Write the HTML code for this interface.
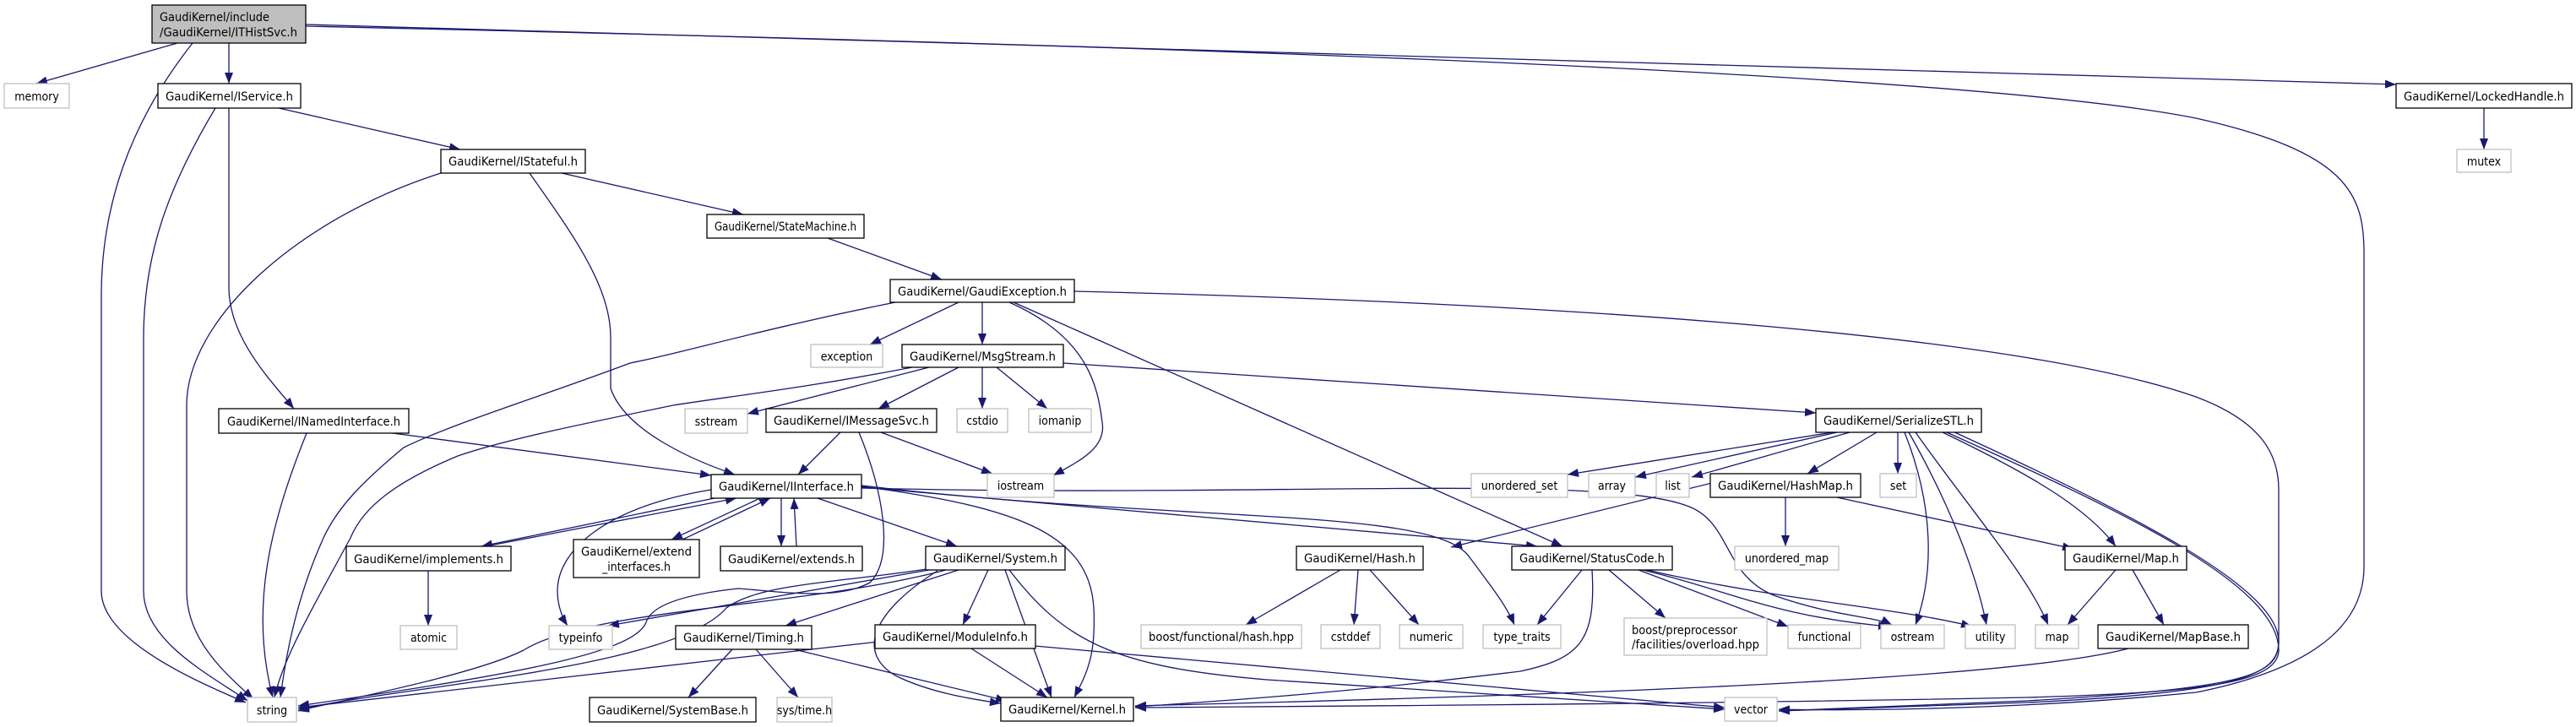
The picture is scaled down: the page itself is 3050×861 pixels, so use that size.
<!DOCTYPE html>
<html><head><meta charset="utf-8"><style>
html,body{margin:0;padding:0;background:#fff;}
svg{display:block;}
text{font-family:"DejaVu Sans Condensed","Liberation Sans Narrow","Liberation Sans",sans-serif;font-size:14px;fill:#000;}
.n{fill:#fff;stroke:#000;stroke-width:1.3;}
.g{fill:#fff;stroke:#bfbfbf;stroke-width:1.3;}
.e{fill:none;stroke:#191970;stroke-width:1.3;marker-end:url(#a);}
</style></head><body>
<svg width="3050" height="861" viewBox="0 0 3050 861" xmlns="http://www.w3.org/2000/svg">
<defs><marker id="a" markerUnits="userSpaceOnUse" markerWidth="14" markerHeight="10" refX="13" refY="5" orient="auto"><path d="M0,0 L13,5 L0,10 z" fill="#191970"/></marker></defs>
<g>
<path class="e" d="M210,51 L43,99"/>
<path class="e" d="M228,51 C150,150 120,250 120,350 L120,700 C120,760 240,810 291,832"/>
<path class="e" d="M271,51 L271,99"/>
<path class="e" d="M362,29 L2837,100"/>
<path class="e" d="M362,31 C1200,50 2300,80 2600,140 C2780,180 2799,230 2799,300 L2799,671 C2799,760 2700,800 2600,820 C2400,840 2200,842 2106,840"/>
<path class="e" d="M330,128 L545,177"/>
<path class="e" d="M255,128 C200,220 170,300 170,400 L170,700 C170,760 250,800 293,830"/>
<path class="e" d="M271,128 L271,340 C271,400 320,450 348,484"/>
<path class="e" d="M665,205 L880,254"/>
<path class="e" d="M522,205 C350,260 221,380 221,480 L221,700 C221,760 270,800 300,828"/>
<path class="e" d="M627,205 C680,280 723,340 723,400 L723,460 C740,510 820,545 870,562"/>
<path class="e" d="M980,282 L1115,331"/>
<path class="e" d="M1135,358 L1030,408"/>
<path class="e" d="M1163,358 L1163,408"/>
<path class="e" d="M1060,358 C900,390 800,420 746,430 C640,470 540,500 478,530 C430,570 400,600 383,637 C350,710 338,780 332,826"/>
<path class="e" d="M1195,358 C1290,400 1300,460 1305,500 C1310,530 1280,545 1247,563"/>
<path class="e" d="M1200,358 L1850,647"/>
<path class="e" d="M1272,345 C1900,360 2400,400 2600,470 C2680,500 2698,540 2698,580 L2698,760 C2698,800 2650,820 2400,832 C2250,838 2150,840 2106,842"/>
<path class="e" d="M1100,435 L885,490"/>
<path class="e" d="M1080,435 C950,460 860,470 797,480 C700,500 600,520 542,540 C470,570 430,600 415,637 C370,720 335,780 325,826"/>
<path class="e" d="M1135,435 L1040,484"/>
<path class="e" d="M1163,435 L1163,484"/>
<path class="e" d="M1180,435 L1240,484"/>
<path class="e" d="M1259,430 L2150,489"/>
<path class="e" d="M995,512 L945,562"/>
<path class="e" d="M1043,512 L1175,561"/>
<path class="e" d="M1017,512 C1045,580 1060,660 1030,690 C990,712 920,700 874,697 C800,705 770,720 765,737 C750,775 600,800 353,836"/>
<path class="e" d="M465,513 L842,563"/>
<path class="e" d="M363,513 C320,620 295,720 323,826"/>
<path class="e" d="M870,585 L570,647"/>
<path class="e" d="M575,647 L872,590"/>
<path class="e" d="M900,590 L795,639"/>
<path class="e" d="M808,639 L912,590"/>
<path class="e" d="M925,590 L925,647"/>
<path class="e" d="M943,647 L940,590"/>
<path class="e" d="M842,580 C720,600 660,650 660,700 C660,720 668,735 672,741"/>
<path class="e" d="M968,590 L1133,647"/>
<path class="e" d="M1020,576 C1200,600 1290,630 1295,720 C1298,780 1285,800 1272,826"/>
<path class="e" d="M1020,577 L1820,647"/>
<path class="e" d="M1020,575 C1400,620 1700,600 1740,660 C1770,700 1785,720 1793,740"/>
<path class="e" d="M1020,578 C1500,590 1900,560 2000,600 C2050,620 2040,680 2100,705 C2170,730 2220,730 2240,740"/>
<path class="e" d="M507,676 L507,741"/>
<path class="e" d="M1100,675 L720,741"/>
<path class="e" d="M1110,672 C1000,690 900,690 860,720 C800,790 500,810 353,840"/>
<path class="e" d="M1120,675 C950,720 700,720 620,770 C560,800 400,830 353,842"/>
<path class="e" d="M1135,675 L930,741"/>
<path class="e" d="M1170,675 L1140,740"/>
<path class="e" d="M1190,675 L1245,826"/>
<path class="e" d="M1195,675 C1260,760 1320,790 1500,805 C1800,825 1950,835 2042,840"/>
<path class="e" d="M1110,676 C1040,720 1010,770 1060,800 C1100,820 1150,828 1185,833"/>
<path class="e" d="M867,769 L815,826"/>
<path class="e" d="M895,769 L945,826"/>
<path class="e" d="M940,769 L1192,830"/>
<path class="e" d="M1040,760 L353,838"/>
<path class="e" d="M1150,768 L1240,826"/>
<path class="e" d="M1225,765 L2042,838"/>
<path class="e" d="M2170,512 L1856,562"/>
<path class="e" d="M2175,512 L1936,565"/>
<path class="e" d="M2190,512 L2003,565"/>
<path class="e" d="M2222,512 L2140,561"/>
<path class="e" d="M2247,512 L2247,561"/>
<path class="e" d="M2255,512 C2290,600 2290,680 2268,740"/>
<path class="e" d="M2260,512 C2310,600 2340,680 2352,740"/>
<path class="e" d="M2268,512 C2330,600 2400,680 2425,740"/>
<path class="e" d="M2300,512 C2400,560 2470,600 2505,647"/>
<path class="e" d="M2305,512 C2500,600 2698,690 2698,770 C2698,810 2600,820 2400,826 C2000,834 1600,836 1344,838"/>
<path class="e" d="M2310,510 C2550,620 2698,700 2698,760 C2698,800 2660,815 2400,830 C2250,836 2150,840 2106,842"/>
<path class="e" d="M2035,570 L1718,648"/>
<path class="e" d="M2114,589 L2114,647"/>
<path class="e" d="M2175,589 L2455,650"/>
<path class="e" d="M2505,675 L2448,740"/>
<path class="e" d="M2525,675 L2562,740"/>
<path class="e" d="M2520,768 C2400,800 2000,820 1344,836"/>
<path class="e" d="M1587,675 L1475,740"/>
<path class="e" d="M1608,675 L1603,740"/>
<path class="e" d="M1622,675 L1680,740"/>
<path class="e" d="M1873,675 L1820,740"/>
<path class="e" d="M1885,675 C1890,760 1870,780 1800,795 C1600,820 1450,830 1344,837"/>
<path class="e" d="M1905,675 L1972,732"/>
<path class="e" d="M1940,675 L2117,742"/>
<path class="e" d="M1945,675 C2050,700 2100,730 2237,742"/>
<path class="e" d="M1950,675 C2100,710 2250,720 2335,742"/>
<path class="e" d="M2941,128 L2941,177"/>
</g>
<rect x="180" y="6" width="182" height="45" fill="#bfbfbf" stroke="#000" stroke-width="1.3"/>
<text x="189" y="25" textLength="130" lengthAdjust="spacingAndGlyphs">GaudiKernel/include</text>
<text x="189" y="43" textLength="163" lengthAdjust="spacingAndGlyphs">/GaudiKernel/ITHistSvc.h</text>
<g>
<rect class="g" x="5" y="99" width="77" height="29"/><text x="43.5" y="119" text-anchor="middle">memory</text>
<rect class="n" x="187" y="99" width="169" height="29"/><text x="271.5" y="119" text-anchor="middle" textLength="151" lengthAdjust="spacingAndGlyphs">GaudiKernel/IService.h</text>
<rect class="n" x="522" y="177" width="171" height="28"/><text x="607.5" y="196" text-anchor="middle" textLength="153" lengthAdjust="spacingAndGlyphs">GaudiKernel/IStateful.h</text>
<rect class="n" x="837" y="254" width="186" height="28"/><text x="930" y="273" text-anchor="middle" textLength="168" lengthAdjust="spacingAndGlyphs">GaudiKernel/StateMachine.h</text>
<rect class="n" x="2837" y="99" width="208" height="29"/><text x="2941" y="119" text-anchor="middle" textLength="190" lengthAdjust="spacingAndGlyphs">GaudiKernel/LockedHandle.h</text>
<rect class="g" x="2909" y="177" width="64" height="27"/><text x="2941" y="196" text-anchor="middle">mutex</text>
<rect class="n" x="1054" y="331" width="218" height="27"/><text x="1163" y="350" text-anchor="middle" textLength="200" lengthAdjust="spacingAndGlyphs">GaudiKernel/GaudiException.h</text>
<rect class="g" x="960" y="408" width="85" height="27"/><text x="1002.5" y="427" text-anchor="middle">exception</text>
<rect class="n" x="1068" y="408" width="191" height="27"/><text x="1163.5" y="427" text-anchor="middle" textLength="173" lengthAdjust="spacingAndGlyphs">GaudiKernel/MsgStream.h</text>
<rect class="n" x="259" y="484" width="225" height="29"/><text x="371.5" y="504" text-anchor="middle" textLength="205" lengthAdjust="spacingAndGlyphs">GaudiKernel/INamedInterface.h</text>
<rect class="g" x="811" y="484" width="74" height="29"/><text x="848" y="504" text-anchor="middle">sstream</text>
<rect class="n" x="907" y="484" width="202" height="28"/><text x="1008" y="503" text-anchor="middle" textLength="184" lengthAdjust="spacingAndGlyphs">GaudiKernel/IMessageSvc.h</text>
<rect class="g" x="1133" y="484" width="60" height="28"/><text x="1163" y="503" text-anchor="middle">cstdio</text>
<rect class="g" x="1218" y="484" width="74" height="28"/><text x="1255" y="503" text-anchor="middle">iomanip</text>
<rect class="n" x="2150" y="484" width="196" height="28"/><text x="2248" y="503" text-anchor="middle" textLength="178" lengthAdjust="spacingAndGlyphs">GaudiKernel/SerializeSTL.h</text>
<rect class="n" x="842" y="562" width="178" height="28"/><text x="931" y="581" text-anchor="middle" textLength="160" lengthAdjust="spacingAndGlyphs">GaudiKernel/IInterface.h</text>
<rect class="g" x="1169" y="561" width="79" height="28"/><text x="1208.5" y="580" text-anchor="middle">iostream</text>
<rect class="g" x="1742" y="561" width="114" height="28"/><text x="1799" y="580" text-anchor="middle">unordered_set</text>
<rect class="g" x="1881" y="561" width="55" height="28"/><text x="1908.5" y="580" text-anchor="middle">array</text>
<rect class="g" x="1961" y="561" width="39" height="28"/><text x="1980.5" y="580" text-anchor="middle">list</text>
<rect class="n" x="2025" y="561" width="178" height="28"/><text x="2114" y="580" text-anchor="middle" textLength="160" lengthAdjust="spacingAndGlyphs">GaudiKernel/HashMap.h</text>
<rect class="g" x="2226" y="561" width="43" height="28"/><text x="2247.5" y="580" text-anchor="middle">set</text>
<rect class="n" x="410" y="647" width="195" height="29"/><text x="507.5" y="667" text-anchor="middle" textLength="177" lengthAdjust="spacingAndGlyphs">GaudiKernel/implements.h</text>
<rect class="n" x="679" y="639" width="149" height="45"/><text x="753.5" y="658" text-anchor="middle" textLength="131" lengthAdjust="spacingAndGlyphs">GaudiKernel/extend</text><text x="753.5" y="676" text-anchor="middle">_interfaces.h</text>
<rect class="n" x="853" y="647" width="168" height="29"/><text x="937" y="667" text-anchor="middle" textLength="150" lengthAdjust="spacingAndGlyphs">GaudiKernel/extends.h</text>
<rect class="n" x="1096" y="647" width="165" height="28"/><text x="1178.5" y="666" text-anchor="middle" textLength="147" lengthAdjust="spacingAndGlyphs">GaudiKernel/System.h</text>
<rect class="n" x="1535" y="647" width="150" height="28"/><text x="1610" y="666" text-anchor="middle" textLength="132" lengthAdjust="spacingAndGlyphs">GaudiKernel/Hash.h</text>
<rect class="n" x="1790" y="647" width="190" height="28"/><text x="1885" y="666" text-anchor="middle" textLength="172" lengthAdjust="spacingAndGlyphs">GaudiKernel/StatusCode.h</text>
<rect class="g" x="2054" y="647" width="123" height="28"/><text x="2115.5" y="666" text-anchor="middle">unordered_map</text>
<rect class="n" x="2445" y="647" width="144" height="28"/><text x="2517" y="666" text-anchor="middle" textLength="126" lengthAdjust="spacingAndGlyphs">GaudiKernel/Map.h</text>
<rect class="g" x="474" y="741" width="67" height="28"/><text x="507.5" y="760" text-anchor="middle">atomic</text>
<rect class="g" x="650" y="741" width="75" height="28"/><text x="687.5" y="760" text-anchor="middle">typeinfo</text>
<rect class="n" x="800" y="741" width="161" height="28"/><text x="880.5" y="760" text-anchor="middle" textLength="143" lengthAdjust="spacingAndGlyphs">GaudiKernel/Timing.h</text>
<rect class="n" x="1036" y="740" width="190" height="28"/><text x="1131" y="759" text-anchor="middle" textLength="172" lengthAdjust="spacingAndGlyphs">GaudiKernel/ModuleInfo.h</text>
<rect class="g" x="1351" y="740" width="190" height="28"/><text x="1446" y="759" text-anchor="middle" textLength="172" lengthAdjust="spacingAndGlyphs">boost/functional/hash.hpp</text>
<rect class="g" x="1564" y="740" width="70" height="28"/><text x="1599" y="759" text-anchor="middle">cstddef</text>
<rect class="g" x="1657" y="740" width="75" height="28"/><text x="1694.5" y="759" text-anchor="middle">numeric</text>
<rect class="g" x="1756" y="740" width="92" height="28"/><text x="1802" y="759" text-anchor="middle">type_traits</text>
<rect class="g" x="1923" y="732" width="169" height="44"/><text x="1932" y="751" textLength="125" lengthAdjust="spacingAndGlyphs">boost/preprocessor</text><text x="1932" y="768" textLength="151" lengthAdjust="spacingAndGlyphs">/facilities/overload.hpp</text>
<rect class="g" x="2117" y="740" width="86" height="28"/><text x="2160" y="759" text-anchor="middle">functional</text>
<rect class="g" x="2227" y="740" width="75" height="28"/><text x="2264.5" y="759" text-anchor="middle">ostream</text>
<rect class="g" x="2327" y="740" width="59" height="28"/><text x="2356.5" y="759" text-anchor="middle">utility</text>
<rect class="g" x="2410" y="740" width="51" height="28"/><text x="2435.5" y="759" text-anchor="middle">map</text>
<rect class="n" x="2484" y="740" width="178" height="28"/><text x="2573" y="759" text-anchor="middle" textLength="160" lengthAdjust="spacingAndGlyphs">GaudiKernel/MapBase.h</text>
<rect class="g" x="293" y="826" width="58" height="29"/><text x="322" y="846" text-anchor="middle">string</text>
<rect class="n" x="698" y="826" width="197" height="29"/><text x="796.5" y="846" text-anchor="middle" textLength="179" lengthAdjust="spacingAndGlyphs">GaudiKernel/SystemBase.h</text>
<rect class="g" x="920" y="826" width="65" height="29"/><text x="952.5" y="846" text-anchor="middle">sys/time.h</text>
<rect class="n" x="1185" y="826" width="157" height="28"/><text x="1263.5" y="845" text-anchor="middle" textLength="139" lengthAdjust="spacingAndGlyphs">GaudiKernel/Kernel.h</text>
<rect class="g" x="2042" y="826" width="62" height="28"/><text x="2073" y="845" text-anchor="middle">vector</text>
</g>
</svg>
</body></html>
